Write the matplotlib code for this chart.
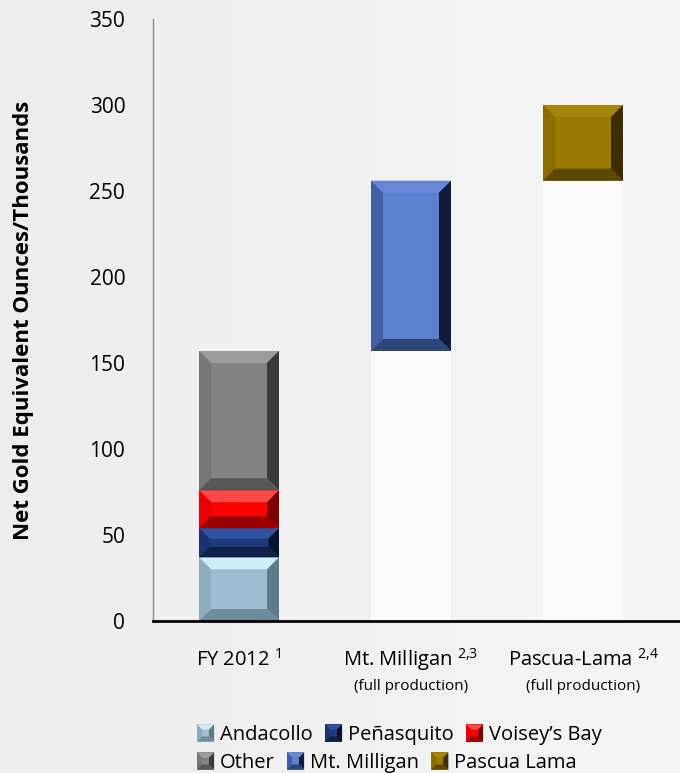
import numpy as np
import matplotlib
matplotlib.use("Agg")
import matplotlib.pyplot as plt
from matplotlib.patches import Polygon, Rectangle
from matplotlib.legend_handler import HandlerBase
from matplotlib.colors import LinearSegmentedColormap
import matplotlib.transforms as mtransforms

plt.rcParams["font.family"] = ["Open Sans", "DejaVu Sans"]
plt.rcParams["mathtext.fontset"] = "custom"
plt.rcParams["mathtext.rm"] = "Open Sans"
plt.rcParams["mathtext.it"] = "Open Sans:italic"
plt.rcParams["mathtext.bf"] = "Open Sans:bold"

# ---- data (thousand net gold equivalent ounces) ----
categories = ["FY 2012", "Mt. Milligan", "Pascua-Lama"]
footnotes = ["1", "2{,}3", "2{,}4"]
subtitles = ["", "(full production)", "(full production)"]

fy2012_sources = ["Andacollo", "Peñasquito", "Voisey’s Bay", "Other"]
fy2012_values = [37, 17, 22, 81]
mt_milligan_value = 99
pascua_lama_value = 44

y_ticks = [0, 50, 100, 150, 200, 250, 300, 350]

# face, top bevel, left bevel, right bevel, bottom bevel
palette = {
    "Andacollo":    ["#9fbdcf", "#d2ecf7", "#8eacbe", "#5f7a8a", "#6f8c9c"],
    "Peñasquito":   ["#1f3a7a", "#3050a0", "#1a336e", "#08132e", "#0f1f48"],
    "Voisey’s Bay": ["#ff0000", "#ff4a4a", "#e80000", "#7a0000", "#9a0000"],
    "Other":        ["#838383", "#9c9c9c", "#777777", "#3a3a3a", "#585858"],
    "Mt. Milligan": ["#5e80d1", "#6688d6", "#4360a4", "#111b3a", "#2f4478"],
    "Pascua Lama":  ["#9a7b00", "#a4850a", "#8a6c00", "#3a2d00", "#5c4800"],
}
legend_row1 = ["Andacollo", "Peñasquito", "Voisey’s Bay"]
legend_row2 = ["Other", "Mt. Milligan", "Pascua Lama"]

W, H = 680, 773
fig = plt.figure(figsize=(W / 100, H / 100), dpi=100)

# soft grey backdrop, a little lighter towards the right
bg = fig.add_axes([0, 0, 1, 1], zorder=-5)
grad = np.linspace(0, 1, 256).reshape(1, -1)
bg.imshow(grad, aspect="auto", extent=[0, 1, 0, 1],
          cmap=LinearSegmentedColormap.from_list("bg", ["#ededed", "#f6f6f6"]))
bg.set_axis_off()

ax = fig.add_axes([153 / W, (H - 621) / H, (W - 153) / W, (621 - 19) / H])
ax.set_facecolor("none")
ax.set_xlim(-0.5, 2.564)
ax.set_ylim(0, 350)

bar_w = 0.465
x = np.arange(len(categories))

px_per_x = (W - 153) / (2.564 + 0.5)
px_per_y = (621 - 19) / 350.0
BEVEL_PX = 12


def bevel_bar(xc, bottom, height, colors, z=3):
    face, top, left, right, low = colors
    bars = ax.bar(xc, height, bar_w, bottom=bottom, color=face,
                  linewidth=0, zorder=z)
    r = bars.patches[0]
    x0, y0 = r.get_x(), r.get_y()
    x1, y1 = x0 + r.get_width(), y0 + r.get_height()
    bpx = min(BEVEL_PX, r.get_height() * px_per_y * 0.36)
    bx = bpx / px_per_x
    by = bpx / px_per_y
    quads = [
        ([(x0, y1), (x1, y1), (x1 - bx, y1 - by), (x0 + bx, y1 - by)], top),
        ([(x0, y0), (x0, y1), (x0 + bx, y1 - by), (x0 + bx, y0 + by)], left),
        ([(x1, y0), (x1, y1), (x1 - bx, y1 - by), (x1 - bx, y0 + by)], right),
        ([(x0, y0), (x1, y0), (x1 - bx, y0 + by), (x0 + bx, y0 + by)], low),
    ]
    for pts, c in quads:
        ax.add_patch(Polygon(pts, closed=True, facecolor=c, edgecolor="none",
                             zorder=z + 0.1))


# FY 2012 stack
bottom = 0
for name, v in zip(fy2012_sources, fy2012_values):
    bevel_bar(x[0], bottom, v, palette[name])
    bottom += v
fy_total = bottom

# pale bases under the floating bars
mm_base = fy_total
pl_base = fy_total + mt_milligan_value
ax.bar(x[1:], [mm_base, pl_base], bar_w, color="#fbfbfb", linewidth=0, zorder=2)

bevel_bar(x[1], mm_base, mt_milligan_value, palette["Mt. Milligan"])
bevel_bar(x[2], pl_base, pascua_lama_value, palette["Pascua Lama"])

# axes styling
for s in ["top", "right"]:
    ax.spines[s].set_visible(False)
ax.spines["left"].set_color("#8a8a8a")
ax.spines["left"].set_linewidth(1.0)
ax.spines["bottom"].set_color("black")
ax.spines["bottom"].set_linewidth(2.0)
ax.spines["bottom"].set_zorder(6)
ax.set_yticks(y_ticks)
ax.set_yticklabels([str(t) for t in y_ticks], fontsize=15)
ax.tick_params(axis="y", length=0, pad=20)
ax.set_xticks([])

ax.set_ylabel("Net Gold Equivalent Ounces/Thousands", fontsize=16,
              fontweight="bold")
ax.yaxis.set_label_coords(-(153 - 34) / (W - 153), 0.5)

tr = mtransforms.blended_transform_factory(ax.transData, ax.transAxes)
for xi, cat, fn, sub in zip(x, categories, footnotes, subtitles):
    ax.text(xi, -39 / (621 - 19), cat + r" $^{\mathregular{" + fn + "}}$",
            transform=tr, ha="center", va="center", fontsize=14.5)
    if sub:
        ax.text(xi, -65 / (621 - 19), sub, transform=tr, ha="center",
                va="center", fontsize=11)


class BevelHandler(HandlerBase):
    def create_artists(self, legend, orig_handle, xdescent, ydescent,
                       width, height, fontsize, trans):
        face, top, left, right, low = palette[orig_handle.get_label()]
        s = max(width, height)
        x0 = -xdescent + (width - s) / 2
        y0 = -ydescent + (height - s) / 2
        x1, y1 = x0 + s, y0 + s
        b = s * 0.3
        arts = [Rectangle((x0, y0), s, s, facecolor=face, edgecolor="none",
                          transform=trans)]
        quads = [
            ([(x0, y1), (x1, y1), (x1 - b, y1 - b), (x0 + b, y1 - b)], top),
            ([(x0, y0), (x0, y1), (x0 + b, y1 - b), (x0 + b, y0 + b)], left),
            ([(x1, y0), (x1, y1), (x1 - b, y1 - b), (x1 - b, y0 + b)], right),
            ([(x0, y0), (x1, y0), (x1 - b, y0 + b), (x0 + b, y0 + b)], low),
        ]
        for pts, c in quads:
            arts.append(Polygon(pts, closed=True, facecolor=c,
                                edgecolor="none", transform=trans))
        return arts


def add_legend_row(names, ypix):
    handles = [Rectangle((0, 0), 1, 1, label=n) for n in names]
    leg = fig.legend(handles=handles, labels=names, ncol=3,
                     loc="center left", bbox_to_anchor=(197 / W, 1 - ypix / H),
                     frameon=False, fontsize=14.5, handlelength=0.85,
                     handleheight=0.85, handletextpad=0.3, columnspacing=0.6,
                     borderpad=0, borderaxespad=0,
                     handler_map={Rectangle: BevelHandler()})
    return leg


add_legend_row(legend_row1, 735)
add_legend_row(legend_row2, 763)

fig.savefig("out.png", dpi=100)
